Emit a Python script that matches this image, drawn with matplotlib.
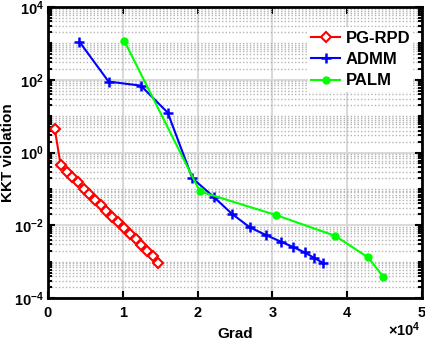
import numpy as np
import matplotlib
matplotlib.use('AGG')
import matplotlib.pyplot as plt
from matplotlib.ticker import FixedLocator, LogLocator, NullFormatter

# values (x in units of 1e4 gradient evaluations)
pg_x = [0.09, 0.17, 0.25, 0.32, 0.40, 0.48, 0.55, 0.63, 0.71, 0.78, 0.86,
        0.94, 1.01, 1.09, 1.17, 1.24, 1.32, 1.40, 1.47]
pg_y = [4.5, 0.44, 0.30, 0.21, 0.15, 0.10, 0.071, 0.050, 0.035, 0.024, 0.017,
        0.012, 0.0083, 0.0058, 0.0041, 0.0028, 0.0020, 0.0014, 0.00092]

admm_x = [0.42, 0.81, 1.24, 1.60, 1.93, 2.22, 2.46, 2.70, 2.92, 3.12,
          3.28, 3.43, 3.56, 3.68]
admm_y = [1110, 89, 69, 12.5, 0.196, 0.059, 0.0205, 0.0087, 0.0053, 0.0035,
          0.0025, 0.0018, 0.00126, 0.00091]

palm_x = [1.02, 2.03, 3.05, 3.84, 4.28, 4.48]
palm_y = [1170, 0.085, 0.019, 0.0051, 0.0013, 0.00039]

ytick_vals = [1e-4, 1e-2, 1e0, 1e2, 1e4]
xtick_vals = [0, 1, 2, 3, 4, 5]

plt.rcParams['font.family'] = ['Liberation Sans', 'DejaVu Sans']
plt.rcParams['font.weight'] = 'bold'
plt.rcParams['mathtext.fontset'] = 'custom'
plt.rcParams['mathtext.rm'] = 'Liberation Sans:bold'
plt.rcParams['mathtext.bf'] = 'Liberation Sans:bold'
plt.rcParams['mathtext.it'] = 'Liberation Sans:bold'

fig = plt.figure(figsize=(4.25, 3.4), dpi=100)
ax = fig.add_axes([48/425, 1-298/340, 374/425, 291/340])

ax.plot(pg_x, pg_y, color='red', lw=1.5, marker='D', ms=5.5, mfc='white',
        mec='red', mew=1.5, label='PG-RPD')
ax.plot(admm_x, admm_y, color='blue', lw=1.5, marker='+', ms=7, mew=1.8,
        label='ADMM')
ax.plot(palm_x, palm_y, color='#00ff00', lw=1.5, marker='o', ms=5,
        mfc='#00ff00', mec='#00ff00', label='PALM')

ax.set_yscale('log')
ax.set_xlim(0, 5)
ax.set_ylim(1e-4, 1e4)
ax.xaxis.set_major_locator(FixedLocator(xtick_vals))
ax.set_xticklabels([str(v) for v in xtick_vals])
ax.yaxis.set_major_locator(FixedLocator(ytick_vals))
ax.set_yticklabels(['$10^{-4}$', '$10^{-2}$', '$10^{0}$', '$10^{2}$', '$10^{4}$'])
ax.yaxis.set_minor_locator(LogLocator(base=10, subs=np.arange(1, 10), numticks=100))
ax.yaxis.set_minor_formatter(NullFormatter())

ax.tick_params(which='both', direction='in', top=True, right=True,
               labelsize=10.5, width=1.5)
ax.tick_params(axis='x', pad=6)
ax.tick_params(axis='y', pad=3)
ax.tick_params(which='major', length=5)
ax.tick_params(which='minor', length=3)

ax.set_axisbelow(True)
ax.grid(which='major', axis='both', color='#dadada', lw=1.5, ls='-')
ax.grid(which='minor', axis='y', color='#b4b4b4', lw=1.0, ls=(0, (1, 1.5)))

for s in ax.spines.values():
    s.set_linewidth(2)

ax.set_xlabel('Grad', fontsize=11, fontweight='bold', labelpad=5)
ax.set_ylabel('KKT violation', fontsize=11, fontweight='bold')
ax.yaxis.set_label_coords(-0.087, 0.5)
ax.text(0.995, -0.11, r'$\times10^{4}$', transform=ax.transAxes, ha='right',
        va='center', fontsize=10.5)

leg = ax.legend(loc='upper left', bbox_to_anchor=(0.695, 0.93), fontsize=12,
                frameon=True, fancybox=False, edgecolor='none', facecolor='white',
                framealpha=1, borderaxespad=0, borderpad=0.2, handlelength=1.75,
                handletextpad=0.3, labelspacing=0.38)

fig.savefig('out.png', dpi=100)
